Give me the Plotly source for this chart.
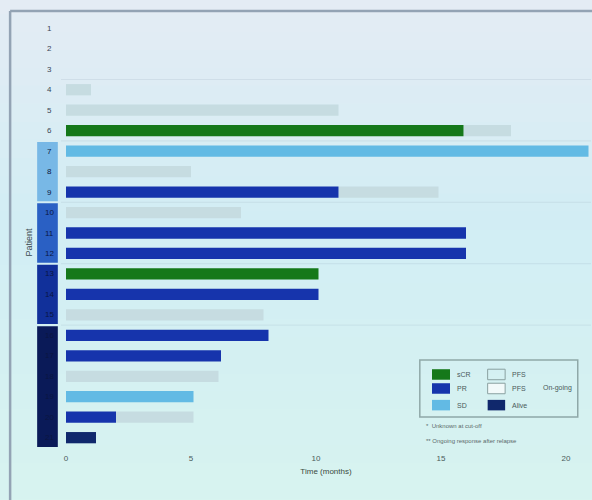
import plotly.graph_objects as go

# ---- data -------------------------------------------------------------
patients = list(range(1, 22))
patient_labels = [str(p) for p in patients]

# response category shown from time 0 and its duration (months)
response_type = [None, None, None, None, None, "sCR", "SD", None, "PR", None,
                 "PR", "PR", "sCR", "PR", None, "PR", "PR", None, "SD", "PR", "Alive"]
response_months = [0, 0, 0, 0, 0, 15.9, 20.9, 0, 10.9, 0,
                   16.0, 16.0, 10.1, 10.1, 0, 8.1, 6.2, 0, 5.1, 2.0, 1.2]
# total progression-free time (months); the part beyond the response is drawn pale
pfs_months = [0, 0, 0, 1.0, 10.9, 17.8, 0, 5.0, 14.9, 7.0,
              0, 0, 0, 0, 7.9, 0, 0, 6.1, 0, 5.1, 0]

x_ticks = [0, 5, 10, 15, 20]

# patient groups marked in the left-hand band: (first, last, colour)
groups = [(7, 9, "#78b8e6"), (10, 12, "#2a60c4"), (13, 15, "#11309a"), (16, 21, "#0a1a58")]
separators = [3.5, 6.5, 9.5, 12.5, 15.5]

legend_col1 = ["sCR", "PR", "SD"]
legend_col2 = ["PFS", "PFS", "Alive"]
legend_col2_extra = ["", "On-going", ""]
notes = ["*  Unknown at cut-off", "** Ongoing response after relapse"]

colors = {"sCR": "#15781a", "PR": "#1634ac", "SD": "#62bae4",
          "Alive": "#10286c", "PFS": "#c6dce1"}

fig = go.Figure()

# pale progression-free segments
pfs_y, pfs_base, pfs_len = [], [], []
for p, r, f in zip(patients, response_months, pfs_months):
    if f > r:
        pfs_y.append(p)
        pfs_base.append(r)
        pfs_len.append(f - r)
fig.add_trace(go.Bar(y=pfs_y, x=pfs_len, base=pfs_base, orientation="h",
                     width=0.55, marker=dict(color=colors["PFS"], line_width=0),
                     showlegend=False, hoverinfo="skip"))

# response segments
for cat in ["sCR", "PR", "SD", "Alive"]:
    ys = [p for p, t in zip(patients, response_type) if t == cat]
    xs = [m for m, t in zip(response_months, response_type) if t == cat]
    fig.add_trace(go.Bar(y=ys, x=xs, base=[0] * len(xs), orientation="h",
                         width=0.55, marker=dict(color=colors[cat], line_width=0),
                         showlegend=False, name=cat))

shapes = []
annotations = []

# soft background wash
stops = [(0.0, (230, 236, 244)), (0.45, (210, 238, 245)), (1.0, (216, 244, 240))]
n = 30
y_top, y_bot = 1.08, -0.15
for i in range(n):
    t = i / (n - 1)
    for (a, ca), (b, cb) in zip(stops[:-1], stops[1:]):
        if a <= t <= b:
            u = (t - a) / (b - a)
            c = tuple(int(ca[k] + (cb[k] - ca[k]) * u) for k in range(3))
            break
    y0 = y_top + (y_bot - y_top) * i / n
    y1 = y_top + (y_bot - y_top) * (i + 1) / n
    shapes.append(dict(type="rect", xref="paper", yref="paper", x0=-0.2, x1=1.1,
                       y0=y1, y1=y0 + 0.002, line_width=0, layer="below",
                       fillcolor="rgb(%d,%d,%d)" % c))

# outer frame
shapes.append(dict(type="line", xref="paper", yref="paper", x0=-0.096, x1=1.05,
                   y0=1.007, y1=1.007, line=dict(color="#93a3b4", width=2.5)))
shapes.append(dict(type="line", xref="paper", yref="paper", x0=-0.096, x1=-0.096,
                   y0=1.007, y1=-0.15, line=dict(color="#93a3b4", width=2.5)))

# faint group separators
for s in separators:
    shapes.append(dict(type="line", xref="paper", yref="y", x0=0, x1=1, y0=s, y1=s,
                       line=dict(color="rgba(140,160,175,0.18)", width=1), layer="below"))

# coloured group band beside the patient numbers
for g0, g1, col in groups:
    shapes.append(dict(type="rect", xref="paper", yref="y", x0=-0.045, x1=-0.006,
                       y0=g0 - 0.45, y1=g1 + 0.45, fillcolor=col, line_width=0))

# patient numbers
for p, lab in zip(patients, patient_labels):
    col = "#3a4656" if p < 7 else "#0a1640"
    annotations.append(dict(x=-0.021, y=p, xref="paper", yref="y", text=lab,
                            showarrow=False, font=dict(size=8, color=col),
                            xanchor="center", yanchor="middle"))

annotations.append(dict(x=-0.074, y=0.48, xref="paper", yref="paper", text="Patient",
                        textangle=-90, showarrow=False,
                        font=dict(size=9, color="#3a4a50")))

# legend box
lx0, lx1, ly0, ly1 = 0.677, 0.975, 0.080, 0.210
shapes.append(dict(type="rect", xref="paper", yref="paper", x0=lx0, x1=lx1, y0=ly0, y1=ly1,
                   line=dict(color="#8fa8a8", width=1.5), fillcolor="rgba(0,0,0,0)"))
row_y = [0.177, 0.145, 0.107]
sw_h = 0.012
for i, name in enumerate(legend_col1):
    shapes.append(dict(type="rect", xref="paper", yref="paper", x0=0.700, x1=0.734,
                       y0=row_y[i] - sw_h, y1=row_y[i] + sw_h,
                       fillcolor=colors[name], line_width=0))
    annotations.append(dict(x=0.743, y=row_y[i], xref="paper", yref="paper", text=name,
                            showarrow=False, xanchor="left", yanchor="middle",
                            font=dict(size=7, color="#4a5a5a")))
col2_fill = ["rgba(0,0,0,0)", "#f2fafa", colors["Alive"]]
for i, name in enumerate(legend_col2):
    shapes.append(dict(type="rect", xref="paper", yref="paper", x0=0.805, x1=0.838,
                       y0=row_y[i] - sw_h, y1=row_y[i] + sw_h, fillcolor=col2_fill[i],
                       line=dict(color="#8aa0a0", width=1) if i < 2 else dict(width=0)))
    annotations.append(dict(x=0.848, y=row_y[i], xref="paper", yref="paper", text=name,
                            showarrow=False, xanchor="left", yanchor="middle",
                            font=dict(size=7, color="#4a5a5a")))
    if legend_col2_extra[i]:
        annotations.append(dict(x=0.905, y=row_y[i], xref="paper", yref="paper",
                                text=legend_col2_extra[i], showarrow=False,
                                xanchor="left", yanchor="middle",
                                font=dict(size=7, color="#4a5a5a")))
for k, txt in enumerate(notes):
    annotations.append(dict(x=0.685, y=0.060 - 0.034 * k, xref="paper", yref="paper",
                            text=txt, showarrow=False, xanchor="left", yanchor="middle",
                            font=dict(size=6, color="#5a6a6a")))

fig.update_layout(
    width=592, height=500,
    margin=dict(l=61, r=1, t=14, b=48),
    paper_bgcolor="#d8eef3", plot_bgcolor="rgba(0,0,0,0)",
    barmode="overlay",
    font=dict(family="Liberation Sans, Arial, sans-serif"),
    shapes=shapes, annotations=annotations,
    showlegend=False,
    xaxis=dict(range=[-0.2, 21.0], tickvals=x_ticks, showgrid=False, zeroline=False,
               showline=False, ticks="", tickfont=dict(size=8, color="#4a5a5a"),
               title=dict(text="Time (months)", font=dict(size=8, color="#3a4a40"),
                          standoff=6)),
    yaxis=dict(range=[21.7, 0.3], showticklabels=False, showgrid=False,
               zeroline=False, showline=False, ticks=""),
)

fig.write_html("out.html")
